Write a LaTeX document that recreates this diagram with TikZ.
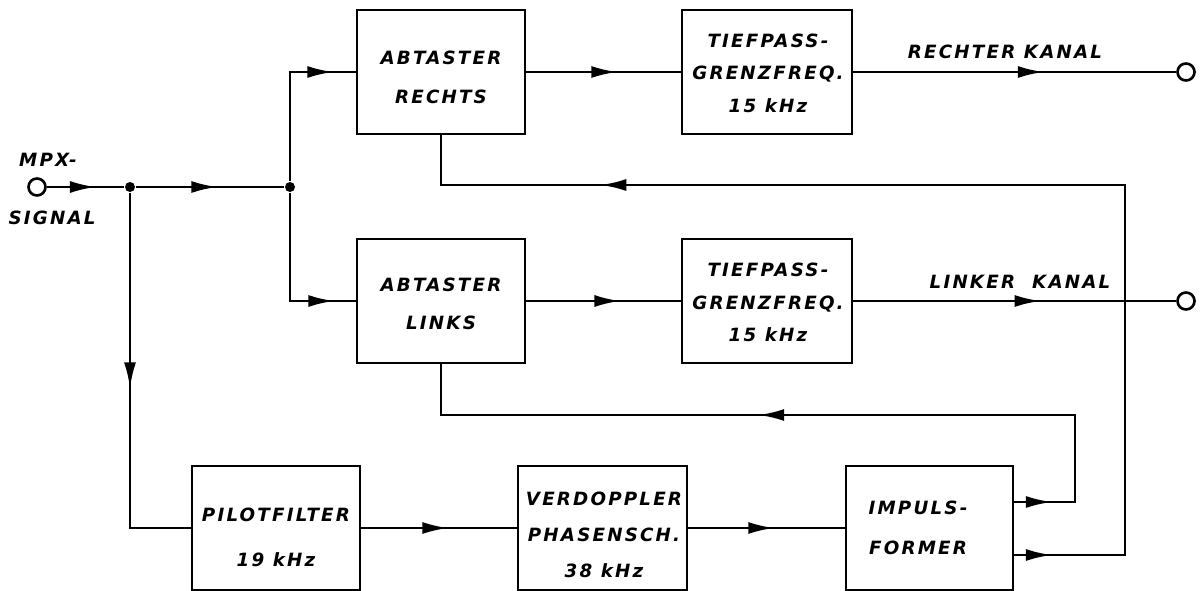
\documentclass[tikz,border=0pt]{standalone}
\usepackage{fontspec}
\usetikzlibrary{arrows.meta,decorations.markings}
\newfontfamily\dinfont[LetterSpace=12]{DejaVu Sans}

\tikzset{
  fl/.tip={Latex[length=0.52cm,width=0.24cm]},
  blk/.style={draw,line width=1.6pt,minimum height=2.48cm,inner sep=0pt},
  txt/.style={font=\dinfont\bfseries\itshape\fontsize{10.4pt}{#1}\selectfont,align=center,inner sep=0pt},
  txt/.default=22pt,
  term/.style={circle,draw,line width=1.5pt,fill=white,minimum size=0.34cm,inner sep=0pt},
  dot/.style={circle,fill,inner sep=0pt,minimum size=0.2cm},
  flow/.style={postaction={decorate},decoration={markings,mark=at position #1 with {\arrow{fl}}}},
  flowtwo/.style 2 args={postaction={decorate},decoration={markings,
      mark=at position #1 with {\arrow{fl}},mark=at position #2 with {\arrow{fl}}}}
}

\begin{document}
\begin{tikzpicture}[x=0.02cm,y=-0.02cm,line width=1.6pt]
\useasboundingbox (0,0) rectangle (1200,591);
\foreach \nm/\cx/\cy/\bw in {ar/441/72/3.36,tr/767/72/3.4,al/441/301/3.36,tl/767/301/3.4,
    pf/276/528/3.36,vd/602.5/528/3.38,imp/929.5/528/3.34}{
  \node[blk,minimum width=\bw cm] (\nm) at (\cx,\cy) {};}
\node[txt=22.2pt] (ar-t) at (441,77.5) {ABTASTER\\RECHTS};
\node[txt=18.5pt] (tr-t) at (768,73) {TIEFPASS-\\GRENZFREQ.\\15 kHz};
\node[txt=21.6pt] (al-t) at (441,304) {ABTASTER\\LINKS};
\node[txt=18.5pt] (tl-t) at (768,302.5) {TIEFPASS-\\GRENZFREQ.\\15 kHz};
\node[txt=25.6pt] (pf-t) at (276,537) {PILOTFILTER\\19 kHz};
\node[txt=20.5pt] (vd-t) at (604,535) {VERDOPPLER\\PHASENSCH.\\38 kHz};
\node[txt=22.8pt] (imp-t) at (918,528) {IMPULS-\\FORMER};
\node[txt] (mpx) at (48,160) {MPX-};
\node[txt] (sig) at (52,218) {SIGNAL};
\node[txt] (rk) at (1005,52) {RECHTER KANAL};
\node[txt] (lk) at (1020,282) {LINKER\ \ KANAL};

\node[term] (in) at (37,187) {};
\node[term] (out1) at (1186,72) {};
\node[term] (out2) at (1186,301) {};
\node[dot] (j1) at (130,187) {};
\node[dot] (j2) at (290,187) {};
\coordinate (fbr) at (1125,555);
\coordinate (fbt) at (1125,185);
\coordinate (fbl) at (1075,502);
\coordinate (fblt) at (1075,415);

\draw[flow=0.64] (in) -- (j1);
\draw[flow=0.55] (j1) -- (j2);
\draw[flow=3.04cm] (j2) |- (ar.west);
\draw[flow=3.04cm] (j2) |- (al.west);
\draw[flow=0.59] (ar) -- (tr);
\draw[flow=0.61] (al) -- (tl);
\draw[flow=0.59] (tr) -- (out1);
\draw[flow=0.58] (tl) -- (out2);
\draw[flow=3.9cm] (j1) |- (pf.west);
\draw[flow=0.56] (pf) -- (vd);
\draw[flow=0.55] (vd) -- (imp);
\draw[flowtwo={0.75cm}{20.11cm}] (imp.east |- fbr) -| (fbt) -| (ar.south);
\draw[flowtwo={0.75cm}{9.29cm}] (imp.east |- fbl) -| (fblt) -| (al.south);
\end{tikzpicture}
\end{document}
